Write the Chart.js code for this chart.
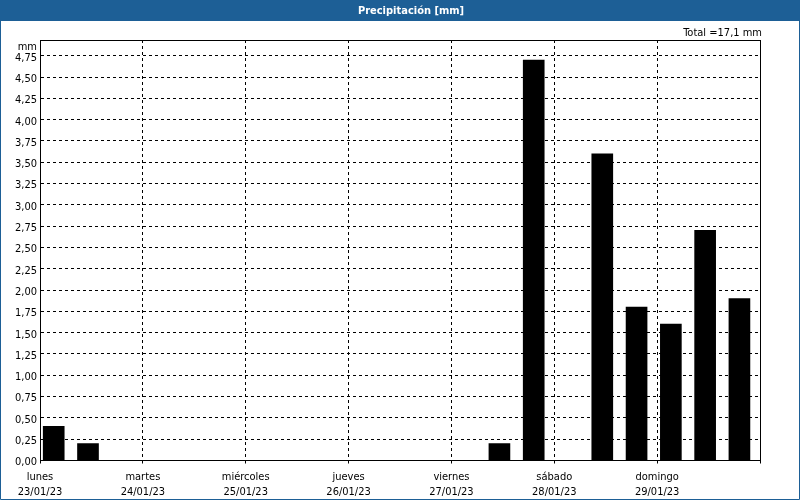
<!DOCTYPE html>
<html>
<head>
<meta charset="utf-8">
<script src="https://cdn.jsdelivr.net/npm/chart.js@4"></script>
<style>
  html, body { margin: 0; padding: 0; background: #fff; }
  canvas { display: block; }
</style>
</head>
<body>
<canvas id="chart" width="800" height="500"></canvas>
<script>
// 8-hour accumulation slots, Monday 00:00 -> Sunday 24:00
const slotHours = [0, 8, 16, 24, 32, 40, 48, 56, 64, 72, 80, 88, 96, 104, 112, 120, 128, 136, 144, 152, 160];
const rainMm    = [0.4, 0.2, 0, 0, 0, 0, 0, 0, 0, 0, 0, 0, 0, 0.2, 4.7, 0, 3.6, 1.8, 1.6, 2.7, 1.9];

const dayNames = ["lunes", "martes", "miércoles", "jueves", "viernes", "sábado", "domingo"];
const dayDates = ["23/01/23", "24/01/23", "25/01/23", "26/01/23", "27/01/23", "28/01/23", "29/01/23"];

const FONT = '"DejaVu Sans Condensed", "DejaVu Sans", sans-serif';
const BLUE = '#1d5f96';

const total = rainMm.reduce((a, b) => a + b, 0);
const fmt = (v, d) => v.toFixed(d).replace('.', ',');

// bars sit a little left of the slot centre, as in the original
const barData = slotHours.map((h, i) => ({ x: h + 3.2, y: rainMm[i] }));

const frame = {
    id: 'frame',
    beforeDraw(chart) {
        const ctx = chart.ctx;
        ctx.save();
        ctx.fillStyle = '#fff';
        ctx.fillRect(0, 0, chart.width, chart.height);
        ctx.restore();
    },
    afterDraw(chart) {
        const { ctx, chartArea: a } = chart;
        ctx.save();
        // plot border
        ctx.strokeStyle = '#000';
        ctx.lineWidth = 1;
        ctx.setLineDash([]);
        const l = Math.round(a.left) + 0.5, t = Math.round(a.top) + 0.5;
        const r = Math.round(a.right) + 0.5, b = Math.round(a.bottom - 0.5) + 0.5;
        ctx.strokeRect(l, t, r - l, b - t);

        // title bar
        ctx.fillStyle = BLUE;
        ctx.fillRect(0, 0, chart.width, 21);
        ctx.fillStyle = '#fff';
        ctx.font = 'bold 11px ' + FONT;
        ctx.textAlign = 'center';
        ctx.textBaseline = 'middle';
        ctx.fillText('Precipitación [mm]', 411, 11);

        // window border
        ctx.strokeStyle = BLUE;
        ctx.beginPath();
        ctx.moveTo(0.5, 21); ctx.lineTo(0.5, 499.5);
        ctx.lineTo(799.5, 499.5); ctx.lineTo(799.5, 21);
        ctx.stroke();

        // unit and total
        ctx.fillStyle = '#000';
        ctx.font = '11px ' + FONT;
        ctx.textAlign = 'right';
        ctx.fillText('mm', a.left - 3, 47);
        ctx.fillText('Total =' + fmt(total, 1) + ' mm', a.right + 2, 33);
        ctx.restore();
    }
};

Chart.defaults.font.family = FONT;
Chart.defaults.font.size = 11;
Chart.defaults.color = '#000';

new Chart(document.getElementById('chart'), {
    type: 'bar',
    data: {
        datasets: [{
            data: barData,
            backgroundColor: '#000',
            borderWidth: 0,
            barThickness: 21
        }]
    },
    options: {
        responsive: false,
        animation: false,
        layout: { padding: { top: 40, right: 40, left: 0, bottom: 0 } },
        plugins: { legend: { display: false }, tooltip: { enabled: false } },
        scales: {
            x: {
                type: 'linear',
                min: 0,
                max: 168,
                offset: false,
                afterFit: s => { s.height = 39.5; },
                grid: {
                    offset: false,
                    color: '#000',
                    tickColor: '#000',
                    tickLength: 3,
                    tickBorderDash: []
                },
                border: { color: '#000', dash: [3, 3] },
                ticks: {
                    stepSize: 24,
                    maxRotation: 0,
                    autoSkip: false,
                    padding: 6,
                    font: { size: 11, lineHeight: 1.36 },
                    callback: v => {
                        const d = v / 24;
                        return d < dayNames.length ? [dayNames[d], dayDates[d]] : '';
                    }
                }
            },
            y: {
                min: 0,
                max: Math.max(...rainMm) * 1.05,
                afterFit: s => { s.width = 40; },
                afterBuildTicks: s => {
                    s.ticks = s.ticks.filter(t => Math.abs(t.value / 0.25 - Math.round(t.value / 0.25)) < 1e-6);
                },
                grid: { color: '#000', drawTicks: false },
                border: { color: '#000', dash: [3, 3] },
                ticks: {
                    stepSize: 0.25,
                    padding: 3,
                    labelOffset: 2,
                    callback: v => fmt(v, 2)
                }
            }
        }
    },
    plugins: [frame]
});
</script>
</body>
</html>
